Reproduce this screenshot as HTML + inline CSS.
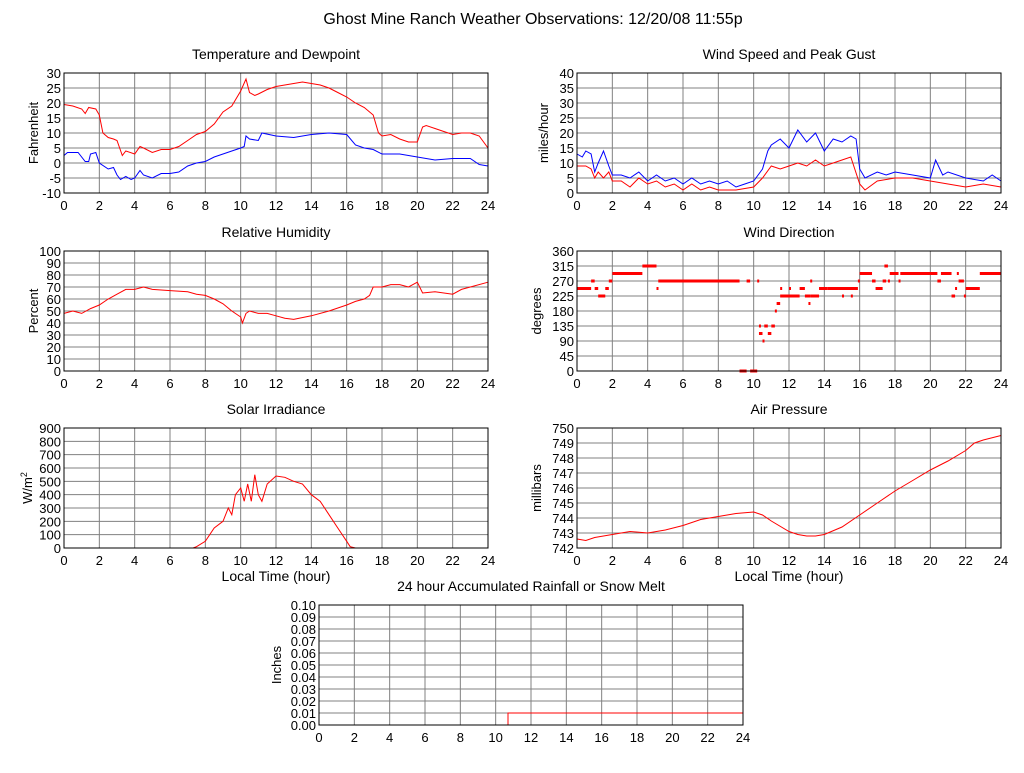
<!DOCTYPE html>
<html><head><meta charset="utf-8"><style>
body{margin:0;background:#fff;width:1024px;height:768px;overflow:hidden}
svg{font-family:"Liberation Sans",sans-serif}
</style></head><body>
<svg id="c" width="1024" height="768">
<text x="533" y="24" font-size="16" text-anchor="middle">Ghost Mine Ranch Weather Observations: 12/20/08 11:55p</text>
</svg>
<script>
const tempHours=[0,0.5,1,1.2,1.4,1.8,2,2.2,2.5,2.8,3,3.3,3.5,4,4.3,4.5,5,5.5,6,6.5,7,7.5,8,8.5,9,9.5,10,10.3,10.5,10.8,11,11.5,12,12.5,13,13.5,14,14.5,15,15.5,16,16.5,17,17.5,17.8,18,18.5,19,19.5,20,20.3,20.5,21,21.5,22,22.5,23,23.5,24];
const tempVals=[19.5,19,18,16.5,18.5,18,16,10,8.5,8,7.5,2.5,4,3,5.5,5,3.5,4.5,4.5,5.5,7.5,9.5,10.5,13,17,19,24,28,23.5,22.5,23,24.5,25.5,26,26.5,27,26.5,26,25,23.5,22,20,18.5,16,10,9,9.5,8,7,7,12,12.5,11.5,10.5,9.5,10,10,9,5];
const dewHours=[0,0.2,0.8,1.2,1.4,1.5,1.8,2,2.5,2.8,3,3.2,3.5,3.8,4,4.3,4.5,5,5.5,6,6.5,7,7.5,8,8.5,9,9.5,10,10.2,10.3,10.5,11,11.2,12,13,14,15,16,16.5,17,17.5,18,19,20,21,22,23,23.5,24];
const dewVals=[2.5,3.5,3.5,0.5,0.5,3,3.5,0,-2,-1.5,-4,-5.5,-4.5,-5.5,-5,-2.5,-4,-5,-3.5,-3.5,-3,-1,0,0.5,2,3,4,5,5.5,9,8,7.5,10,9,8.5,9.5,10,9.5,6,5,4.5,3,3,2,1,1.5,1.5,-0.5,-1];
const gustHours=[0,0.3,0.5,0.8,1,1.2,1.5,1.8,2,2.5,3,3.5,4,4.5,5,5.5,6,6.5,7,7.5,8,8.5,9,9.5,10,10.5,10.8,11,11.5,12,12.5,13,13.5,14,14.5,15,15.5,15.8,16,16.3,17,17.5,18,19,20,20.3,20.7,21,22,23,23.5,24];
const gustVals=[13,12,14,13,7,10,14,9,6,6,5,7,4,6,4,5,3,5,3,4,3,4,2,3,4,8,14,16,18,15,21,17,20,14,18,17,19,18,8,5,7,6,7,6,5,11,6,7,5,4,6,4];
const speedHours=[0,0.5,0.8,1,1.2,1.5,1.8,2,2.5,3,3.5,4,4.5,5,5.5,6,6.5,7,7.5,8,9,10,10.5,11,11.5,12,12.5,13,13.5,14,14.5,15,15.5,16,16.3,17,18,19,20,21,22,23,24];
const speedVals=[9,9,8,5,7,5,7,4,4,2,5,3,4,2,3,1,3,1,2,1,1,2,5,9,8,9,10,9,11,9,10,11,12,3,1,4,5,5,4,3,2,3,2];
const humHours=[0,0.5,1,1.5,2,2.5,3,3.5,4,4.5,5,6,7,7.5,8,8.5,9,9.5,10,10.1,10.3,10.5,11,11.5,12,12.5,13,14,15,16,16.5,17,17.3,17.5,18,18.5,19,19.5,20,20.3,21,22,22.5,23,24];
const humVals=[48,50,48,52,55,60,64,68,68,70,68,67,66,64,63,60,56,50,45,40,48,50,48,48,46,44,43,46,50,55,58,60,63,70,70,72,72,70,74,65,66,64,68,70,74];
const dirStart=[0,0.8,1.0,1.2,1.6,1.8,2.0,3.7,4.5,4.6,9.2,9.6,9.8,10.2,10.3,10.3,10.5,10.6,10.8,11.0,11.2,11.3,11.5,11.5,12.0,12.0,12.6,12.9,13.1,13.2,13.2,13.7,14.2,15.0,15.0,15.5,15.9,16.0,16.7,16.9,17.3,17.4,17.6,17.7,18.2,18.3,20.4,20.6,21.2,21.4,21.5,21.6,21.9,22.0,22.8];
const dirEnd=[0.8,1.0,1.2,1.6,1.8,2.0,3.7,4.5,4.6,9.2,9.6,9.8,10.2,10.3,10.4,10.5,10.6,10.8,11.0,11.2,11.3,11.5,11.6,12.0,12.1,12.6,12.9,13.2,13.2,13.3,13.7,14.2,15.0,15.9,15.1,15.6,16.0,16.7,16.9,17.3,17.5,17.6,17.7,18.2,18.3,20.4,20.6,21.2,21.4,21.5,21.6,21.9,22.0,22.8,24];
const dirVals=[247.5,270,247.5,225,247.5,270,292.5,315,247.5,270,0,270,0,270,135,112.5,90,135,112.5,135,180,202.5,247.5,225,247.5,225,247.5,225,202.5,270,225,247.5,247.5,247.5,225,225,270,292.5,270,247.5,270,315,270,292.5,270,292.5,270,292.5,225,247.5,292.5,270,225,247.5,292.5];
const solarHours=[0,7.3,7.5,8,8.5,9,9.3,9.5,9.7,10,10.2,10.4,10.6,10.8,11,11.2,11.5,12,12.5,13,13.5,14,14.5,15,15.5,16,16.2,16.5,24];
const solarVals=[0,0,10,50,150,200,300,250,400,450,350,480,350,550,400,350,480,540,530,500,480,400,350,250,150,50,10,0,0];
const presHours=[0,0.5,1,2,3,4,5,6,7,8,9,10,10.5,11,12,12.5,13,13.5,14,15,16,17,18,19,20,21,22,22.5,23,24];
const presVals=[742.6,742.5,742.7,742.9,743.1,743.0,743.2,743.5,743.9,744.1,744.3,744.4,744.2,743.8,743.1,742.9,742.8,742.8,742.9,743.4,744.2,745,745.8,746.5,747.2,747.8,748.5,749.0,749.2,749.5];
const rainHours=[0,10.7,10.7,24];
const rainVals=[0,0,0.01,0.01];

const NS='http://www.w3.org/2000/svg';
const svg=document.getElementById('c');
function mk(tag,attrs,parent){const e=document.createElementNS(NS,tag);for(const k in attrs)e.setAttribute(k,attrs[k]);(parent||svg).appendChild(e);return e;}
function panel(p){
  const g=mk('g',{});
  
  
  const sx=h=>p.l+(p.r-p.l)*h/24;
  const sy=v=>p.b-(p.b-p.t)*(v-p.min)/(p.max-p.min);
  p.sx=sx;p.sy=sy;
  for(let h=2;h<24;h+=2){const l=mk('line',{x1:sx(h),x2:sx(h),y1:p.t,y2:p.b,stroke:'#808080','stroke-width':1},g);}
  for(let i=0;i<p.ticks.length;i++){const v=p.ticks[i];const y=sy(v);
    if(i>0&&i<p.ticks.length-1){const l=mk('line',{x1:p.l,x2:p.r,y1:y,y2:y,stroke:'#808080','stroke-width':1},g);}
    const t=mk('text',{x:p.l-3,y:y+5,'font-size':13,'text-anchor':'end'},g);t.textContent=p.labels[i];
    }
  for(let h=0;h<=24;h+=2){const t=mk('text',{x:sx(h),y:p.b+17,'font-size':13,'text-anchor':'middle'},g);t.textContent=h;
    }
  const title=mk('text',{x:(p.l+p.r)/2,y:p.t-14,'font-size':14,'text-anchor':'middle'},g);title.textContent=p.title;
  
  const yt=mk('text',{x:0,y:0,'font-size':13,'text-anchor':'middle',transform:`translate(${p.yx},${(p.t+p.b)/2}) rotate(-90)`},g);
  if(p.ytHtml){yt.innerHTML=p.ytHtml;}else yt.textContent=p.ytitle;
  
  if(p.xtitle){const xt=mk('text',{x:(p.l+p.r)/2,y:p.b+33,'font-size':14,'text-anchor':'middle'},g);xt.textContent=p.xtitle;
    }
  p.g=g;return p;
}
function finish(p){const r=mk('rect',{x:p.l,y:p.t,width:p.r-p.l,height:p.b-p.t,fill:'none',stroke:'#000','stroke-width':1},p.g);
  }
function line(p,hs,vs,color,name){const pts=hs.map((h,i)=>p.sx(h).toFixed(1)+','+p.sy(vs[i]).toFixed(1)).join(' ');
  const l=mk('polyline',{points:pts,fill:'none',stroke:color,'stroke-width':1},p.g);
  }
function rng(a,b,s){const r=[];for(let v=a;v<=b+1e-9;v+=s)r.push(+v.toFixed(3));return r;}

let p=panel({name:'temperature-panel',l:64,t:73,r:488,b:193,min:-10,max:30,ticks:rng(-10,30,5),labels:rng(-10,30,5).map(String),title:'Temperature and Dewpoint',ytitle:'Fahrenheit',yx:38});
line(p,tempHours,tempVals,'#f00','temperature-line');line(p,dewHours,dewVals,'#00f','dewpoint-line');finish(p);

p=panel({name:'wind-speed-panel',l:577,t:73,r:1001,b:193,min:0,max:40,ticks:rng(0,40,5),labels:rng(0,40,5).map(String),title:'Wind Speed and Peak Gust',ytitle:'miles/hour',yx:548});
line(p,gustHours,gustVals,'#00f','gust-line');line(p,speedHours,speedVals,'#f00','speed-line');finish(p);

p=panel({name:'humidity-panel',l:64,t:251,r:488,b:371,min:0,max:100,ticks:rng(0,100,10),labels:rng(0,100,10).map(String),title:'Relative Humidity',ytitle:'Percent',yx:38});
line(p,humHours,humVals,'#f00','humidity-line');finish(p);

p=panel({name:'wind-direction-panel',l:577,t:251,r:1001,b:371,min:0,max:360,ticks:rng(0,360,45),labels:rng(0,360,45).map(String),title:'Wind Direction',ytitle:'degrees',yx:541});
for(let i=0;i<dirVals.length;i++){const x1=p.sx(dirStart[i]),x2=p.sx(dirEnd[i]);
  const r=mk('rect',{x:x1,y:p.sy(dirVals[i])-1.5,width:Math.max(2,x2-x1),height:3,fill:'#f00'},p.g);
  }
finish(p);

p=panel({name:'solar-panel',l:64,t:428,r:488,b:548,min:0,max:900,ticks:rng(0,900,100),labels:rng(0,900,100).map(String),title:'Solar Irradiance',ytHtml:'W/m<tspan font-size="9" dy="-5">2</tspan>',yx:32,xtitle:'Local Time (hour)'});
line(p,solarHours,solarVals,'#f00','solar-line');finish(p);

p=panel({name:'pressure-panel',l:577,t:428,r:1001,b:548,min:742,max:750,ticks:rng(742,750,1),labels:rng(742,750,1).map(String),title:'Air Pressure',ytitle:'millibars',yx:541,xtitle:'Local Time (hour)'});
line(p,presHours,presVals,'#f00','pressure-line');finish(p);

p=panel({name:'rainfall-panel',l:319,t:605,r:743,b:725,min:0,max:0.1,ticks:rng(0,0.1,0.01),labels:rng(0,0.1,0.01).map(v=>v.toFixed(2)),title:'24 hour Accumulated Rainfall or Snow Melt',ytitle:'Inches',yx:281});
line(p,rainHours,rainVals,'#f00','rainfall-line');finish(p);
</script>
</body></html>
